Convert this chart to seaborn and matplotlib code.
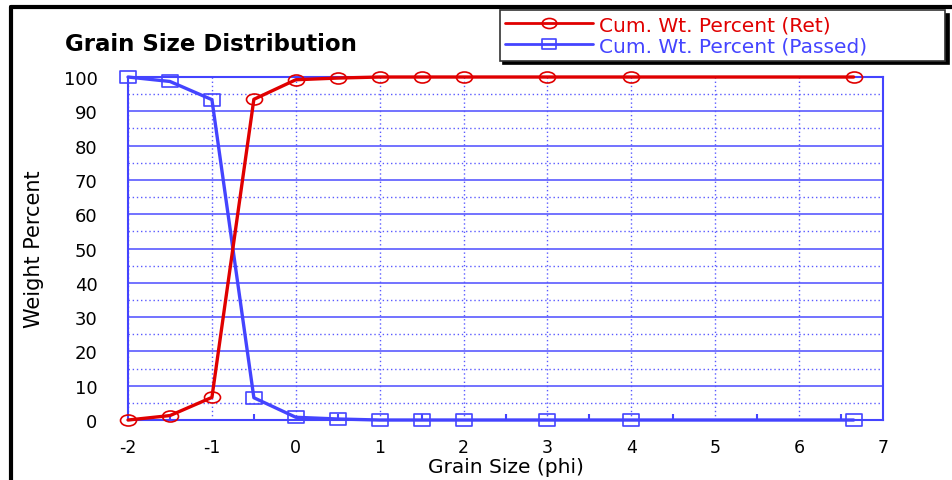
import numpy as np
import pandas as pd
import matplotlib
matplotlib.use("Agg")
import matplotlib.pyplot as plt
from matplotlib.path import Path
from matplotlib.lines import Line2D
from matplotlib.ticker import MultipleLocator
import seaborn as sns

# data
grain_phi = [-2, -1.5, -1, -0.5, 0, 0.5, 1, 1.5, 2, 3, 4, 6.65]
cum_ret = [0, 1.3, 6.6, 93.5, 99.2, 99.7, 100, 100, 100, 100, 100, 100]
cum_passed = [100, 98.7, 93.4, 6.5, 0.8, 0.3, 0, 0, 0, 0, 0, 0]

sns.set_style("white")
plt.rcParams['font.family'] = ['DejaVu Sans']
plt.rcParams['text.color'] = 'black'
plt.rcParams['axes.labelcolor'] = 'black'
plt.rcParams['xtick.labelcolor'] = 'black'
plt.rcParams['ytick.labelcolor'] = 'black'
plt.rcParams['axes.unicode_minus'] = False

BLUE = "#4444ff"
RED = "#e00000"
GRID = "#5a5aff"

# wide ellipse / rectangle markers like the original
circ = Path.unit_circle()
ell = Path(circ.vertices * np.array([1.45, 1.0]), circ.codes)
rect = Path([(-1.45, -1), (1.45, -1), (1.45, 1), (-1.45, 1), (-1.45, -1)],
            [Path.MOVETO, Path.LINETO, Path.LINETO, Path.LINETO, Path.CLOSEPOLY])

fig = plt.figure(figsize=(9.52, 4.81), dpi=100)
ax = fig.add_axes([0.1345, 0.1247, 0.793, 0.7131])

df = pd.DataFrame({"phi": grain_phi, "ret": cum_ret, "passed": cum_passed})

sns.lineplot(data=df, x="phi", y="ret", ax=ax, color=RED, lw=2.4,
             marker=ell, markersize=11.5, markerfacecolor="none",
             markeredgecolor=RED, markeredgewidth=1.2, clip_on=False, zorder=4,
             label="Cum. Wt. Percent (Ret)")
sns.lineplot(data=df, x="phi", y="passed", ax=ax, color=BLUE, lw=2.4,
             marker=rect, markersize=11.5, markerfacecolor="none",
             markeredgecolor=BLUE, markeredgewidth=1.2, clip_on=False, zorder=3,
             label="Cum. Wt. Percent (Passed)")

ax.set_xlim(-2, 7)
ax.set_ylim(0, 100)
ax.xaxis.set_major_locator(MultipleLocator(1))
ax.xaxis.set_minor_locator(MultipleLocator(0.5))
ax.yaxis.set_major_locator(MultipleLocator(10))
ax.yaxis.set_minor_locator(MultipleLocator(5))

ax.grid(False)
ax.grid(True, axis="y", which="major", color=GRID, lw=1.2, ls="-")
ax.grid(True, axis="y", which="minor", color=GRID, lw=1.0, ls=(0, (1, 2)))
ax.grid(True, axis="x", which="major", color=GRID, lw=1.0, ls=(0, (1, 2)))
ax.set_axisbelow(True)

for s in ax.spines.values():
    s.set_color(BLUE)
    s.set_linewidth(1.5)

ax.tick_params(axis="x", which="major", direction="in", length=7, width=1.5,
               color=BLUE, labelsize=12.5, pad=13)
ax.tick_params(axis="x", which="minor", direction="in", length=4, width=1.5,
               color=BLUE, bottom=True)
ax.tick_params(axis="y", which="both", length=0, labelsize=13, pad=22)

ax.set_xlabel("Grain Size (phi)", fontsize=14.5, labelpad=1)
ax.set_ylabel("Weight Percent", fontsize=15, labelpad=14)

fig.text(0.068, 0.908, "Grain Size Distribution", fontsize=16.5,
         fontweight="bold", va="center", ha="left")

leg = ax.legend(loc="upper left", bbox_to_anchor=(0.525, 0.871, 0.468, 0.106),
                bbox_transform=fig.transFigure, mode="expand",
                frameon=True, fancybox=False,
                shadow={"color": "black", "alpha": 1, "ox": 2.5, "oy": -2.5},
                fontsize=14.5, handlelength=4.4, borderpad=0.25,
                labelspacing=0.12, handletextpad=0.3, borderaxespad=0)
leg.get_frame().set_edgecolor("#333333")
leg.get_frame().set_linewidth(1.2)
for txt, c in zip(leg.get_texts(), [RED, BLUE]):
    txt.set_color(c)
for h in leg.legend_handles:
    h.set_linewidth(2)
    h.set_markersize(10.5)

# page frame lines on left and top
fig.add_artist(Line2D([0.0116, 0.0116], [0, 0.983], color="black", lw=3,
                      transform=fig.transFigure))
fig.add_artist(Line2D([0.0116, 1], [0.983, 0.983], color="black", lw=3,
                      transform=fig.transFigure))

fig.savefig("out.png", dpi=100)
